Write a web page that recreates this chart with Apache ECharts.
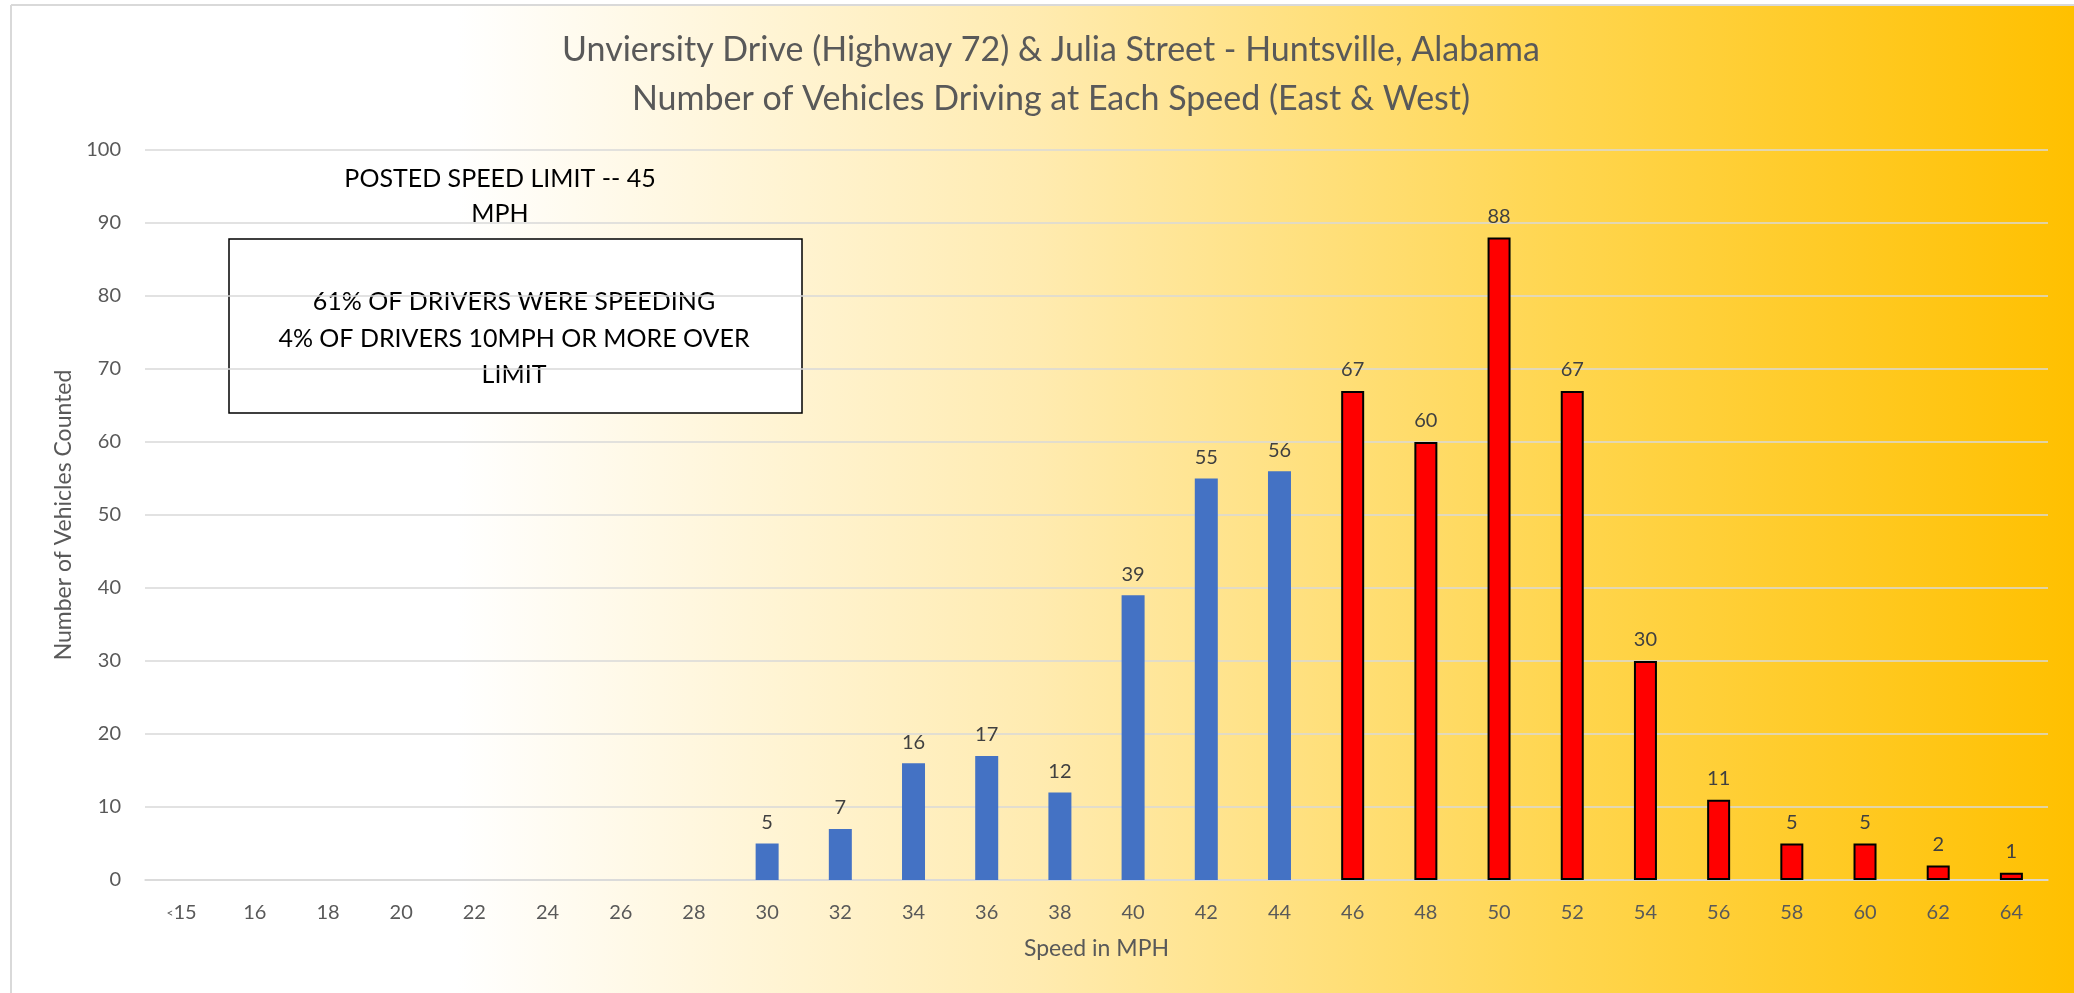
<!DOCTYPE html>
<html><head><meta charset="utf-8">
<script src="https://cdn.jsdelivr.net/npm/echarts@6/dist/echarts.min.js"></script>
<style>html,body{margin:0;padding:0;background:#fff}#c{width:2074px;height:993px}</style>
</head><body><div id="c"></div>
<script>
const categories = ['<15','16','18','20','22','24','26','28','30','32','34','36','38','40','42','44','46','48','50','52','54','56','58','60','62','64'];
const underLimit = [null,null,null,null,null,null,null,null,5,7,16,17,12,39,55,56,null,null,null,null,null,null,null,null,null,null];
const overLimit  = [null,null,null,null,null,null,null,null,null,null,null,null,null,null,null,null,67,60,88,67,30,11,5,5,2,1];
const yTicks = [0,10,20,30,40,50,60,70,80,90,100];
const titleLines = ['Unviersity Drive (Highway 72) & Julia Street - Huntsville, Alabama','Number of Vehicles Driving at Each Speed (East & West)'];
const noteTop = ['POSTED SPEED LIMIT -- 45','MPH'];
const noteBox = ['61% OF DRIVERS WERE SPEEDING','4% OF DRIVERS 10MPH OR MORE OVER','LIMIT'];

const FONT = 'Lato';
const chart = echarts.init(document.getElementById('c'));
chart.setOption({
  backgroundColor: new echarts.graphic.LinearGradient(0,0,1,0,[
    {offset:0,color:'#FFFFFF'},{offset:0.22,color:'#FFFFFF'},
    {offset:0.5,color:'#FFEBB0'},{offset:0.75,color:'#FFD650'},{offset:1,color:'#FFC000'}]),
  textStyle:{fontFamily:FONT},
  title:{
    text: titleLines.join('\n'), left: 1046, top: 21, textAlign:'center',
    textStyle:{fontFamily:FONT,fontWeight:'normal',fontSize:34,color:'#595959',lineHeight:49}
  },
  grid:{left:145,right:26,top:150,bottom:113,containLabel:false},
  xAxis:{
    type:'category', data:categories,
    name:'Speed in MPH', nameLocation:'middle', nameGap:57,
    nameTextStyle:{fontSize:23,color:'#595959',fontFamily:FONT},
    axisLine:{show:true,lineStyle:{color:'#D9D9D9',width:1.5}},
    axisTick:{show:false},
    axisLabel:{margin:23,fontSize:20,color:'#595959',fontFamily:FONT,interval:0,
      formatter:function(v){return v.charAt(0)==='<' ? '{s|<}'+v.slice(1) : v;},
      rich:{s:{fontSize:12,color:'#595959',fontFamily:FONT}}}
  },
  yAxis:{
    type:'value', min:yTicks[0], max:yTicks[yTicks.length-1], interval:10,
    name:'Number of Vehicles Counted', nameLocation:'middle', nameGap:68,
    nameTextStyle:{fontSize:23,color:'#595959',fontFamily:FONT},
    axisLine:{show:false}, axisTick:{show:false},
    axisLabel:{margin:24,fontSize:20,color:'#595959',fontFamily:FONT},
    splitLine:{lineStyle:{color:'#D9D9D9',width:1.5}}
  },
  series:[
    {type:'bar',name:'under',data:underLimit,barWidth:23,barGap:'-100%',
     itemStyle:{color:'#4472C4'},
     label:{show:true,position:'top',distance:11,fontSize:20,color:'#404040',fontFamily:FONT}},
    {type:'bar',name:'over',data:overLimit,barWidth:23,barGap:'-100%',
     itemStyle:{color:'#FF0000',borderColor:'#000000',borderWidth:2},
     label:{show:true,position:'top',distance:11,fontSize:20,color:'#404040',fontFamily:FONT}}
  ],
  graphic:[
    {type:'rect',silent:true,shape:{x:0,y:0,width:11,height:993},style:{fill:'#fff'}},
    {type:'rect',silent:true,shape:{x:0,y:0,width:2074,height:5},style:{fill:'#fff'}},
    {type:'line',silent:true,shape:{x1:11,y1:5,x2:2074,y2:5},style:{stroke:'#D9D9D9',lineWidth:2}},
    {type:'line',silent:true,shape:{x1:11,y1:5,x2:11,y2:993},style:{stroke:'#D9D9D9',lineWidth:2}},
    {type:'text',silent:true,x:500,y:161,style:{text:noteTop.join('\n'),textAlign:'center',fontFamily:FONT,fontSize:25,lineHeight:35,fill:'#000'}},
    {type:'rect',silent:true,shape:{x:229,y:239,width:573,height:174},style:{fill:'#fff',stroke:'#000',lineWidth:1.5}},
    {type:'text',silent:true,x:514,y:284,style:{text:noteBox.join('\n'),textAlign:'center',fontFamily:FONT,fontSize:25,lineHeight:36.5,fill:'#000'}}
  ]
});
</script></body></html>
